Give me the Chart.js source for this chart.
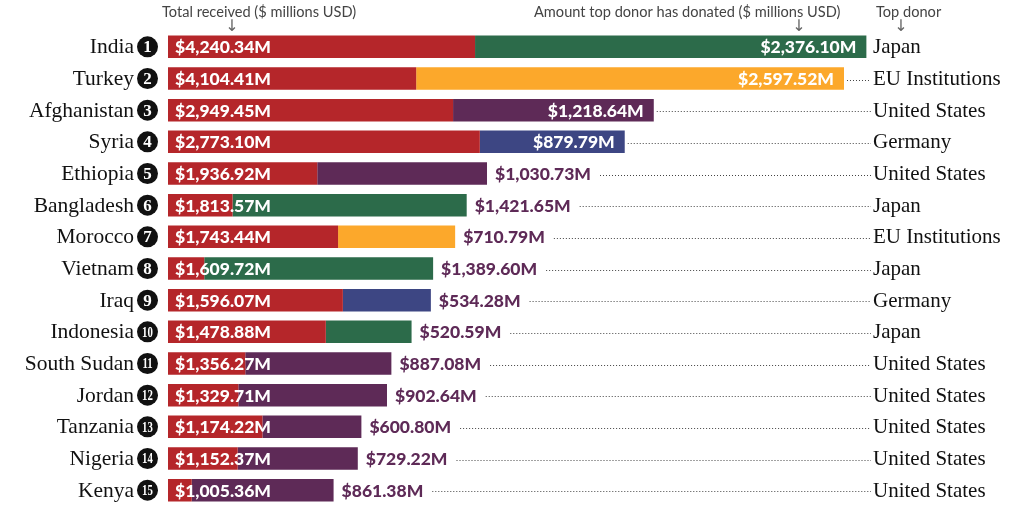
<!DOCTYPE html>
<html>
<head>
<meta charset="utf-8">
<script src="https://cdn.jsdelivr.net/npm/chart.js@4.4.1/dist/chart.umd.min.js"></script>
<style>
  html, body { margin: 0; padding: 0; background: #fff; }
  #wrap { position: relative; width: 1014px; height: 516px; }
</style>
</head>
<body>
<div id="wrap"><canvas id="aidChart"></canvas></div>
<script>
const countries = ["India", "Turkey", "Afghanistan", "Syria", "Ethiopia", "Bangladesh", "Morocco", "Vietnam",
  "Iraq", "Indonesia", "South Sudan", "Jordan", "Tanzania", "Nigeria", "Kenya"];
const totals = [4240.34, 4104.41, 2949.45, 2773.10, 1936.92, 1813.57, 1743.44, 1609.72,
  1596.07, 1478.88, 1356.27, 1329.71, 1174.22, 1152.37, 1005.36];
const donated = [2376.10, 2597.52, 1218.64, 879.79, 1030.73, 1421.65, 710.79, 1389.60,
  534.28, 520.59, 887.08, 902.64, 600.80, 729.22, 861.38];
const donors = ["Japan", "EU Institutions", "United States", "Germany", "United States", "Japan",
  "EU Institutions", "Japan", "Germany", "Japan", "United States", "United States",
  "United States", "United States", "United States"];

const donorColors = {
  "Japan": "#2c6b4a",
  "EU Institutions": "#fca82b",
  "United States": "#5e2a57",
  "Germany": "#3d4683"
};
const red = "#b5262a";
const purpleText = "#5e2a57";
const serif = "'Liberation Serif', 'Times New Roman', serif";
const sans = "Lato, 'Open Sans', sans-serif";

const rest = totals.map((t, i) => t - donated[i]);
const fmt = v => "$" + v.toLocaleString("en-US", { minimumFractionDigits: 2, maximumFractionDigits: 2 }) + "M";

const labelPlugin = {
  id: "labels",
  afterDatasetsDraw(chart) {
    const ctx = chart.ctx;
    const area = chart.chartArea;
    const donorBars = chart.getDatasetMeta(1).data;
    const donorX = 873;

    ctx.save();
    // headers
    ctx.fillStyle = "#444";
    ctx.font = "14.6px " + sans;
    ctx.textBaseline = "middle";
    ctx.textAlign = "left";
    ctx.fillText("Total received ($ millions USD)", 162, 12);
    ctx.fillText("Amount top donor has donated ($ millions USD)", 534, 12);
    ctx.fillText("Top donor", 876, 12);
    ctx.font = "16px 'DejaVu Sans'";
    ctx.textAlign = "center";
    ctx.fillStyle = "#666";
    ctx.fillText("↓", 232, 27);
    ctx.fillText("↓", 799, 27);
    ctx.fillText("↓", 901, 27);

    donorBars.forEach((bar, i) => {
      const y = bar.y;
      const end = bar.x;

      // country name
      ctx.fillStyle = "#111";
      ctx.font = "21.5px " + serif;
      ctx.textAlign = "right";
      ctx.textBaseline = "middle";
      ctx.fillText(countries[i], 134, y + 1);

      // rank circle
      ctx.beginPath();
      ctx.arc(147.5, y, 10.5, 0, Math.PI * 2);
      ctx.fillStyle = "#111";
      ctx.fill();
      ctx.fillStyle = "#fff";
      ctx.textAlign = "center";
      const n = String(i + 1);
      ctx.font = "bold " + (n.length > 1 ? 15 : 17) + "px " + serif;
      if (n.length > 1) {
        ctx.save();
        ctx.translate(147.5, y + 1);
        ctx.scale(0.72, 1);
        ctx.fillText(n, 0, 0);
        ctx.restore();
      } else {
        ctx.fillText(n, 147.5, y + 1);
      }

      // total label
      ctx.font = "900 17.5px " + sans;
      ctx.textAlign = "left";
      ctx.fillStyle = "#fff";
      ctx.fillText(fmt(totals[i]), area.left + 7, y + 1);

      // donor label
      const txt = fmt(donated[i]);
      const w = ctx.measureText(txt).width;
      let dotStart;
      if (totals[i] >= 2500) {
        ctx.textAlign = "right";
        ctx.fillStyle = "#fff";
        ctx.fillText(txt, end - 10, y + 1);
        dotStart = end + 3;
      } else {
        ctx.textAlign = "left";
        ctx.fillStyle = purpleText;
        ctx.fillText(txt, end + 8, y + 1);
        dotStart = end + 8 + w + 9;
      }

      // leader line
      if (dotStart < donorX - 4) {
        ctx.beginPath();
        ctx.setLineDash([1, 2]);
        ctx.strokeStyle = "#444";
        ctx.lineWidth = 1;
        ctx.moveTo(dotStart, Math.round(y) + 1.5);
        ctx.lineTo(donorX - 2, Math.round(y) + 1.5);
        ctx.stroke();
        ctx.setLineDash([]);
      }

      // donor name
      ctx.fillStyle = "#111";
      ctx.font = "21px " + serif;
      ctx.textAlign = "left";
      ctx.fillText(donors[i], donorX, y + 1);
    });
    ctx.restore();
  }
};

new Chart(document.getElementById("aidChart"), {
  type: "bar",
  data: {
    labels: countries,
    datasets: [
      {
        label: "Rest of total received",
        data: rest,
        backgroundColor: red
      },
      {
        label: "Amount top donor has donated",
        data: donated,
        backgroundColor: donors.map(d => donorColors[d])
      }
    ]
  },
  options: {
    indexAxis: "y",
    responsive: true,
    maintainAspectRatio: false,
    animation: false,
    layout: { padding: { left: 168, right: 22.5, top: 31, bottom: 10 } },
    datasets: { bar: { barPercentage: 0.71, categoryPercentage: 1 } },
    plugins: {
      legend: { display: false },
      tooltip: { enabled: false }
    },
    scales: {
      x: { stacked: true, min: 0, max: 5000, display: false },
      y: { stacked: true, display: false }
    }
  },
  plugins: [labelPlugin]
});
</script>
</body>
</html>
